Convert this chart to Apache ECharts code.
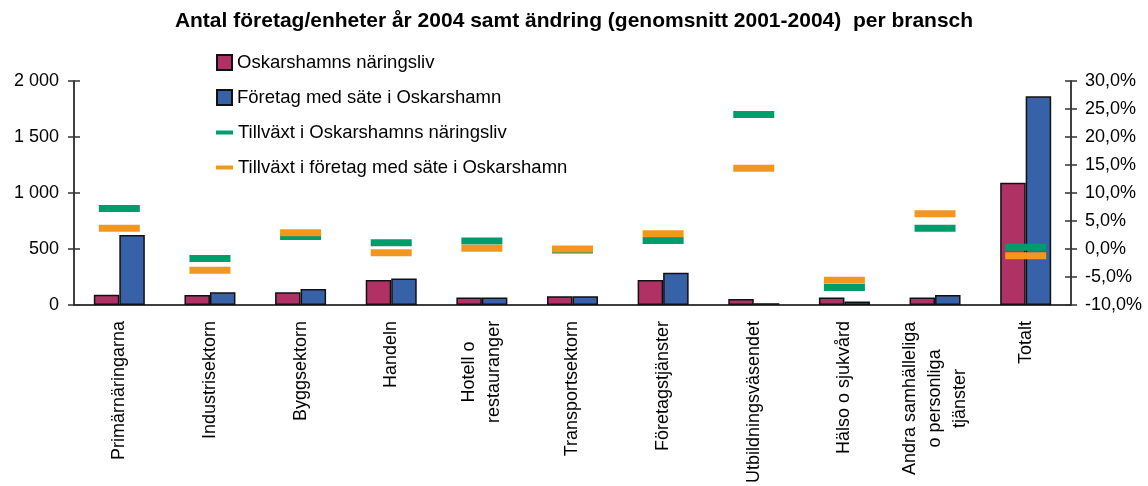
<!DOCTYPE html>
<html>
<head>
<meta charset="utf-8">
<script src="https://cdn.jsdelivr.net/npm/echarts@6/dist/echarts.min.js"></script>
<style>
  html, body { margin: 0; padding: 0; background: #fff; }
  #chart { width: 1148px; height: 486px; }
</style>
</head>
<body>
<div id="chart"></div>
<script>
// branscher
var categories = ['Primärnäringarna', 'Industrisektorn', 'Byggsektorn', 'Handeln', 'Hotell o\nrestauranger',
    'Transportsektorn', 'Företagstjänster', 'Utbildningsväsendet', 'Hälso o sjukvård',
    'Andra samhälleliga\no personliga\ntjänster', 'Totalt'];
// antal 2004
var oskarshamn = [90, 89, 113, 223, 65, 77, 223, 53, 65, 65, 1090];
var sateOskarshamn = [624, 113, 143, 235, 65, 77, 288, 15, 30, 89, 1864];
// tillväxt i procent
var tillvaxtOskarshamn = [7.2, -1.7, 2.2, 1.1, 1.4, -0.2, 1.5, 24.0, -6.9, 3.7, 0.3];
var tillvaxtSate = [3.7, -3.8, 2.9, -0.7, 0.1, 0.0, 2.7, 14.4, -5.6, 6.3, -1.2];

var font = 'Liberation Sans, Arial, sans-serif';

function catLabel(v) {
    if (v.indexOf('\n') < 0) return v;
    var key = v.indexOf('Hotell') === 0 ? 'h' : 'a';
    return v.split('\n').map(function (l) { return '{' + key + '|' + l + '}'; }).join('\n');
}

var option = {
    animation: false,
    textStyle: { fontFamily: font },
    title: {
        text: 'Antal företag/enheter år 2004 samt ändring (genomsnitt 2001-2004)  per bransch',
        left: 'center',
        top: 6,
        textStyle: { fontSize: 21, fontWeight: 'bold', color: '#000', fontFamily: font }
    },
    legend: [
        {
            orient: 'vertical',
            left: 216,
            top: 53,
            padding: 0,
            itemWidth: 15,
            itemHeight: 15,
            itemGap: 16,
            textStyle: { fontSize: 18.5, color: '#000', fontFamily: font },
            data: [{ name: 'Oskarshamns näringsliv', icon: 'rect' }, { name: 'Företag med säte i Oskarshamn', icon: 'rect' }]
        },
        {
            orient: 'vertical',
            left: 216,
            top: 123,
            padding: 0,
            itemWidth: 17,
            itemHeight: 4,
            itemGap: 16,
            textStyle: { fontSize: 18.5, color: '#000', fontFamily: font },
            data: [{ name: 'Tillväxt i Oskarshamns näringsliv', icon: 'rect' }, { name: 'Tillväxt i företag med säte i Oskarshamn', icon: 'rect' }]
        }
    ],
    grid: { left: 74, right: 77, top: 81, bottom: 181 },
    xAxis: [
        {
            type: 'category',
            data: categories,
            axisLine: { lineStyle: { color: '#000', width: 1.5 } },
            axisTick: { length: 7, lineStyle: { color: '#444', width: 1.5 } },
            axisLabel: {
                rotate: 90,
                interval: 0,
                margin: 16,
                fontSize: 18,
                color: '#000',
                fontFamily: font,
                lineHeight: 25,
                formatter: catLabel,
                rich: {
                    h: { width: 102, align: 'center', fontSize: 18, lineHeight: 25, color: '#000', fontFamily: font },
                    a: { width: 155, align: 'center', fontSize: 18, lineHeight: 25, color: '#000', fontFamily: font }
                }
            }
        },
        {
            type: 'category',
            data: categories,
            position: 'bottom',
            axisLine: { show: false },
            axisTick: { inside: true, length: 7, lineStyle: { color: '#444', width: 1.5 } },
            axisLabel: { show: false }
        }
    ],
    yAxis: [
        {
            type: 'value',
            min: 0,
            max: 2000,
            interval: 500,
            position: 'left',
            splitLine: { show: false },
            axisLine: { show: true, lineStyle: { color: '#000', width: 1.5 } },
            axisTick: { show: true, length: 6, lineStyle: { color: '#333', width: 1.5 } },
            axisLabel: {
                margin: 15,
                fontSize: 18,
                color: '#000',
                fontFamily: font,
                formatter: function (v) {
                    return v >= 1000 ? Math.floor(v / 1000) + ' ' + String(v % 1000).padStart(3, '0') : String(v);
                }
            }
        },
        {
            type: 'value',
            min: -10,
            max: 30,
            interval: 5,
            position: 'right',
            splitLine: { show: false },
            axisLine: { show: true, lineStyle: { color: '#000', width: 1.5 } },
            axisTick: { show: true, length: 6, lineStyle: { color: '#333', width: 1.5 } },
            axisLabel: {
                margin: 14,
                fontSize: 18,
                color: '#000',
                fontFamily: font,
                formatter: function (v) { return v.toFixed(1).replace('.', ',') + '%'; }
            }
        },
        {
            type: 'value',
            min: 0,
            max: 2000,
            interval: 500,
            position: 'left',
            splitLine: { show: false },
            axisLine: { show: false },
            axisTick: { show: true, inside: true, length: 6, lineStyle: { color: '#333', width: 1.5 } },
            axisLabel: { show: false }
        },
        {
            type: 'value',
            min: -10,
            max: 30,
            interval: 5,
            position: 'right',
            splitLine: { show: false },
            axisLine: { show: false },
            axisTick: { show: true, inside: true, length: 6, lineStyle: { color: '#333', width: 1.5 } },
            axisLabel: { show: false }
        }
    ],
    series: [
        {
            name: 'Oskarshamns näringsliv',
            type: 'bar',
            barWidth: 25.5,
            barGap: '0%',
            itemStyle: { color: '#B03264', borderColor: '#111', borderWidth: 1.5 },
            data: oskarshamn
        },
        {
            name: 'Företag med säte i Oskarshamn',
            type: 'bar',
            barWidth: 25.5,
            barGap: '0%',
            itemStyle: { color: '#3862A8', borderColor: '#111', borderWidth: 1.5 },
            data: sateOskarshamn
        },
        {
            name: 'Tillväxt i Oskarshamns näringsliv',
            type: 'scatter',
            yAxisIndex: 1,
            symbol: 'rect',
            symbolSize: [41, 7],
            z: 3,
            itemStyle: { color: '#009C69', opacity: 1 },
            data: tillvaxtOskarshamn
        },
        {
            name: 'Tillväxt i företag med säte i Oskarshamn',
            type: 'scatter',
            yAxisIndex: 1,
            symbol: 'rect',
            symbolSize: [41, 7],
            z: 4,
            itemStyle: { color: '#F3961F', opacity: 1 },
            data: tillvaxtSate
        }
    ]
};

var chart = echarts.init(document.getElementById('chart'));
chart.setOption(option);
</script>
</body>
</html>
